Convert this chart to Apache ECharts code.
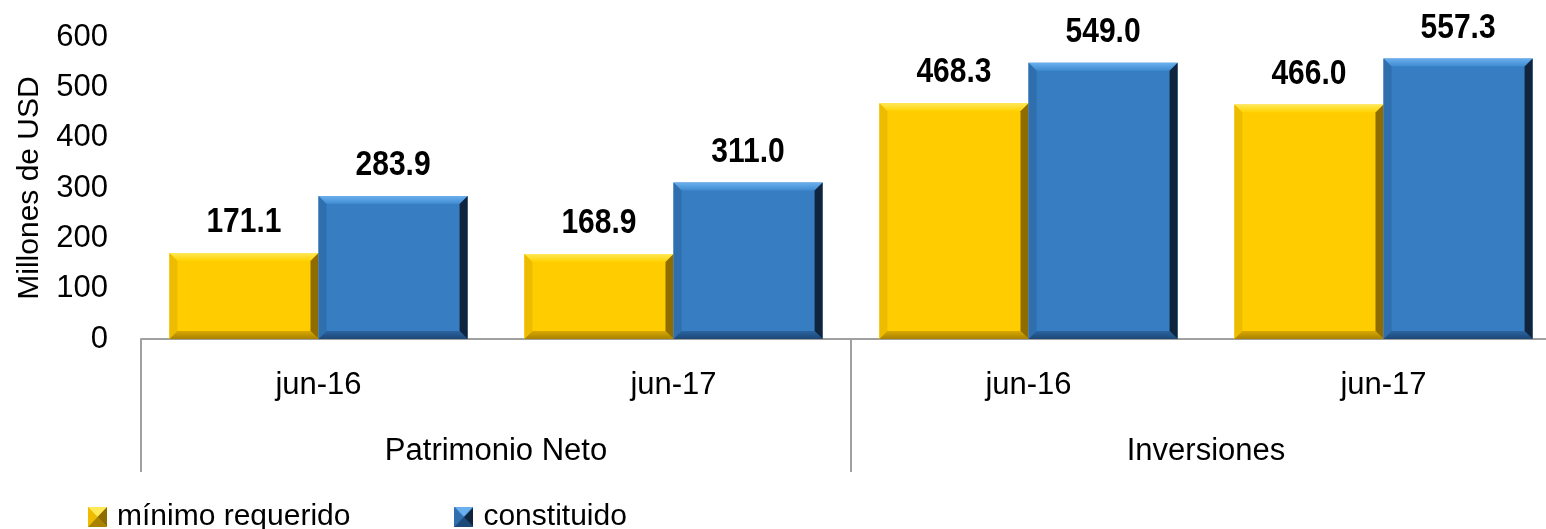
<!DOCTYPE html>
<html>
<head>
<meta charset="utf-8">
<title>Patrimonio Neto e Inversiones</title>
<script src="https://cdn.jsdelivr.net/npm/echarts@6/dist/echarts.min.js"></script>
<style>
  html, body { margin: 0; padding: 0; background: #ffffff; overflow: hidden; }
  /* the plot runs slightly past the right edge of the window */
  #chart { width: 1562px; height: 529px; }
</style>
</head>
<body>
<div id="chart"></div>
<script>
// Categories (period) and their groups
const categories = ['jun-16', 'jun-17', 'jun-16', 'jun-17'];
const groups = ['Patrimonio Neto', 'Inversiones'];

// Values in millions of USD
const minimoRequerido = [171.1, 168.9, 468.3, 466.0];
const constituido = [283.9, 311.0, 549.0, 557.3];

const seriesNames = ['mínimo requerido', 'constituido'];

// Axis ticks
const yMin = 0, yMax = 600, yStep = 100;

const FONT = '"Liberation Sans", Arial, sans-serif';

// Bevel palettes: face, top, left, bottom, right
const palettes = [
  { face: '#FFCC00', top: ['#FFE85A', '#FFD200'], left: '#EDBB00', bottom: ['#D9A800', '#A88200'], right: '#8F6C00' },
  { face: '#367DC1', top: ['#6AB0EE', '#3F8AD0'], left: '#2F6FAE', bottom: ['#2A64A0', '#1E4877'], right: '#10253D' }
];

function vGrad(c0, c1) {
  return { type: 'linear', x: 0, y: 0, x2: 0, y2: 1, colorStops: [{ offset: 0, color: c0 }, { offset: 1, color: c1 }] };
}

// Small beveled square used as legend symbol
function bevelIcon(p) {
  const w = 19, h = 20;
  const c = document.createElement('canvas');
  c.width = w; c.height = h;
  const g = c.getContext('2d');
  const poly = (pts, fill) => {
    g.beginPath(); g.moveTo(pts[0][0], pts[0][1]);
    for (let i = 1; i < pts.length; i++) g.lineTo(pts[i][0], pts[i][1]);
    g.closePath(); g.fillStyle = fill; g.fill();
  };
  g.fillStyle = p.face; g.fillRect(0, 0, w, h);
  poly([[0, 0], [w, 0], [w / 2, h / 2]], p.top[0]);
  poly([[0, 0], [w / 2, h / 2], [0, h]], p.left);
  poly([[0, h], [w / 2, h / 2], [w, h]], p.bottom[1]);
  poly([[w, 0], [w, h], [w / 2, h / 2]], p.right);
  return 'image://' + c.toDataURL();
}

// Beveled bar drawn from the axis coordinates of each data item
function makeRenderItem(slot, p) {
  return function (params, api) {
    const cat = api.value(0);
    const val = api.value(1);
    const top = api.coord([cat, val]);
    const base = api.coord([cat, 0]);
    const band = api.size([1, 0])[0];
    const bw = band * 0.42;
    const x0 = top[0] + (slot === 0 ? -bw : 0);
    const x1 = x0 + bw;
    const y0 = top[1], y1 = base[1];
    const b = 8;
    const lx = (x0 + x1) / 2, ly = y0 - 13;
    return {
      type: 'group',
      children: [
        { type: 'rect', shape: { x: x0, y: y0, width: bw, height: y1 - y0 }, style: { fill: p.face } },
        { type: 'polygon', shape: { points: [[x0, y0], [x1, y0], [x1 - b, y0 + b], [x0 + b, y0 + b]] }, style: { fill: vGrad(p.top[0], p.top[1]) } },
        { type: 'polygon', shape: { points: [[x0, y0], [x0 + b, y0 + b], [x0 + b, y1 - b], [x0, y1]] }, style: { fill: p.left } },
        { type: 'polygon', shape: { points: [[x0, y1], [x0 + b, y1 - b], [x1 - b, y1 - b], [x1, y1]] }, style: { fill: vGrad(p.bottom[0], p.bottom[1]) } },
        { type: 'polygon', shape: { points: [[x1, y0], [x1, y1], [x1 - b, y1 - b], [x1 - b, y0 + b]] }, style: { fill: p.right } },
        {
          type: 'text',
          x: lx, y: ly, scaleY: 1.18,
          style: {
            text: val.toFixed(1), x: 0, y: 0,
            align: 'center', verticalAlign: 'bottom',
            font: 'bold 30px ' + FONT, fill: '#000000'
          }
        }
      ]
    };
  };
}

const chart = echarts.init(document.getElementById('chart'), null, { renderer: 'canvas' });

chart.setOption({
  animation: false,
  backgroundColor: '#ffffff',
  grid: { left: 141, top: 37, width: 1420, height: 302 },
  legend: {
    left: 88, top: 502, padding: 0,
    itemWidth: 19, itemHeight: 20, itemGap: 104,
    textStyle: { fontFamily: FONT, fontSize: 30, color: '#000000', padding: [0, 0, 0, 5] },
    data: seriesNames.map((n, i) => ({ name: n, icon: bevelIcon(palettes[i]) }))
  },
  xAxis: [
    {
      type: 'category', data: categories, position: 'bottom',
      axisLine: { show: true, lineStyle: { color: '#A0A0A0', width: 2 } },
      axisTick: { show: false },
      axisLabel: { fontFamily: FONT, fontSize: 31, color: '#000000', margin: 31 },
      splitLine: { show: false }
    },
    {
      type: 'category', data: groups, position: 'bottom',
      axisLine: { show: false },
      axisTick: { show: true, interval: 0, length: 133, lineStyle: { color: '#A0A0A0', width: 2 } },
      axisLabel: { fontFamily: FONT, fontSize: 31, color: '#000000', margin: 97 },
      splitLine: { show: false }
    }
  ],
  yAxis: {
    type: 'value', min: yMin, max: yMax, interval: yStep,
    name: 'Millones de USD', nameLocation: 'middle', nameGap: 96,
    nameTextStyle: { fontFamily: FONT, fontSize: 30, color: '#000000' },
    axisLine: { show: false }, axisTick: { show: false }, splitLine: { show: false },
    axisLabel: { fontFamily: FONT, fontSize: 31, color: '#000000', margin: 33 }
  },
  series: [minimoRequerido, constituido].map((vals, i) => ({
    name: seriesNames[i],
    type: 'custom',
    xAxisIndex: 0, yAxisIndex: 0,
    itemStyle: { color: palettes[i].face },
    encode: { x: 0, y: 1 },
    data: vals.map((v, k) => [k, v]),
    renderItem: makeRenderItem(i, palettes[i]),
    clip: false
  }))
});
</script>
</body>
</html>
